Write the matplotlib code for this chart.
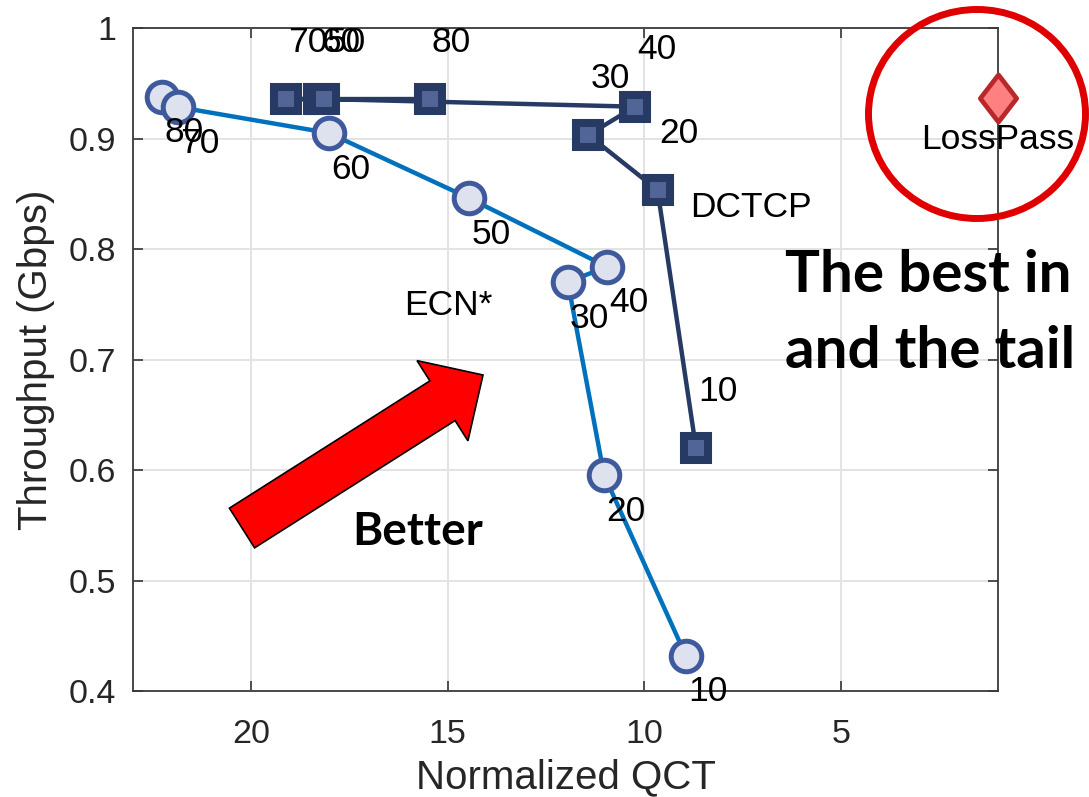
import matplotlib
matplotlib.use("Agg")
import matplotlib.pyplot as plt
from matplotlib.patches import FancyArrow, Ellipse
from matplotlib.path import Path
from matplotlib.transforms import Affine2D

# throughput vs normalized QCT, one point per threshold setting
ecn_labels = ["80", "70", "60", "50", "40", "30", "20", "10"]
ecn_qct = [22.26, 21.86, 18.02, 14.45, 10.95, 11.94, 11.02, 8.94]
ecn_tput = [0.938, 0.9285, 0.905, 0.846, 0.784, 0.770, 0.5955, 0.432]

dctcp_labels = ["80", "70", "60", "50", "40", "30", "20", "10"]
dctcp_qct = [15.45, 19.11, 18.27, 18.14, 10.23, 11.42, 9.66, 8.68]
dctcp_tput = [0.9357, 0.9357, 0.9357, 0.9357, 0.9288, 0.9032, 0.8534, 0.6196]

losspass_qct = [1.0]
losspass_tput = [0.9364]

W, H = 1089, 797
fig = plt.figure(figsize=(W / 100, H / 100), dpi=100)
ax = fig.add_axes([133 / W, 1 - 691 / H, (998 - 133) / W, (691 - 28) / H])

FONT = "Liberation Sans"
txt_size = 25.5

# ECN* curve
ax.plot(ecn_qct, ecn_tput, color="#0072BD", lw=3.2, zorder=3)
ax.plot(ecn_qct, ecn_tput, ls="none", marker="o", ms=22, mew=3.6,
        mfc="#DEE2EE", mec="#3F5A9C", zorder=4)
for lab, x, y in zip(ecn_labels, ecn_qct, ecn_tput):
    ax.annotate(lab, (x, y), xytext=(1.5, -26), textcoords="offset points",
                ha="left", va="center", annotation_clip=False,
                fontfamily=FONT, fontsize=txt_size, color="black", zorder=6)

# DCTCP curve
ax.plot(dctcp_qct, dctcp_tput, color="#263A63", lw=3.2, zorder=3)
ax.plot(dctcp_qct, dctcp_tput, ls="none", marker="s", ms=17.5, mew=5.8,
        mfc="#516696", mec="#263A63", zorder=5)
for lab, x, y in zip(dctcp_labels, dctcp_qct, dctcp_tput):
    ax.annotate(lab, (x, y), xytext=(1.5, 41), textcoords="offset points",
                ha="left", va="center", annotation_clip=False,
                fontfamily=FONT, fontsize=txt_size, color="black", zorder=6)

# LossPass point, a tall diamond sitting on the right edge
diamond = Path([(0, 1), (0.77, 0), (0, -1), (-0.77, 0), (0, 1)],
               [Path.MOVETO, Path.LINETO, Path.LINETO, Path.LINETO, Path.CLOSEPOLY])
ax.plot(losspass_qct, losspass_tput, ls="none", marker=diamond, ms=34, mew=3.4,
        mfc="#FF8080", mec="#B8282B", clip_on=False, zorder=6)

ax.text(16.1, 0.749, "ECN*", ha="left", va="center", fontfamily=FONT,
        fontsize=txt_size, zorder=6)
ax.text(8.84, 0.838, "DCTCP", ha="left", va="center", fontfamily=FONT,
        fontsize=txt_size, zorder=6)
ax.text(1.0, 0.899, "LossPass", ha="center", va="center", fontfamily=FONT,
        fontsize=txt_size, zorder=7, clip_on=False)

ax.set_xlim(23, 1)
ax.set_ylim(0.4, 1.0)
ax.set_xticks([20, 15, 10, 5])
ax.set_yticks([0.4, 0.5, 0.6, 0.7, 0.8, 0.9, 1.0])
ax.set_yticklabels(["0.4", "0.5", "0.6", "0.7", "0.8", "0.9", "1"])
for t in ax.get_xticklabels() + ax.get_yticklabels():
    t.set_fontfamily(FONT)
    t.set_fontsize(24.5)
    t.set_color("#262626")
ax.tick_params(direction="in", length=7, width=1.1, color="#262626",
               top=True, right=True)
ax.tick_params(axis="x", pad=20)
ax.tick_params(axis="y", pad=12)
ax.grid(True, color="#E3E3E3", lw=1.4)
ax.set_axisbelow(True)
for s in ax.spines.values():
    s.set_color("#3A3A3A")
    s.set_linewidth(1.3)

ax.set_xlabel("Normalized QCT", labelpad=6, fontfamily=FONT, fontsize=29,
              color="#262626")
ax.set_ylabel("Throughput (Gbps)", labelpad=10, fontfamily=FONT, fontsize=29,
              color="#262626")

# overlay shapes placed in pixel coordinates (origin top-left)
px = Affine2D().scale(1, -1).translate(0, H).scale(1 / 100) + fig.dpi_scale_trans

arrow = FancyArrow(242, 528, 483 - 242, 375 - 528, width=47, head_width=95,
                   head_length=48, length_includes_head=True,
                   transform=px, facecolor="#FF0000", edgecolor="black",
                   lw=1.2, zorder=10)
fig.add_artist(arrow)

ring = Ellipse((977, 114), 217, 209, transform=px, fill=False,
               edgecolor="#E10000", lw=5, zorder=10)
fig.add_artist(ring)

fig.text(352, 545, "Better", transform=px, ha="left", va="baseline",
         fontfamily="Lato", fontweight="bold", fontsize=33, zorder=11)
fig.text(785, 292, "The best in", transform=px, ha="left", va="baseline",
         fontfamily="Lato", fontweight="bold", fontsize=42, zorder=11)
fig.text(785, 368, "and the tail", transform=px, ha="left", va="baseline",
         fontfamily="Lato", fontweight="bold", fontsize=42, zorder=11)

fig.savefig("out.png", dpi=100)
